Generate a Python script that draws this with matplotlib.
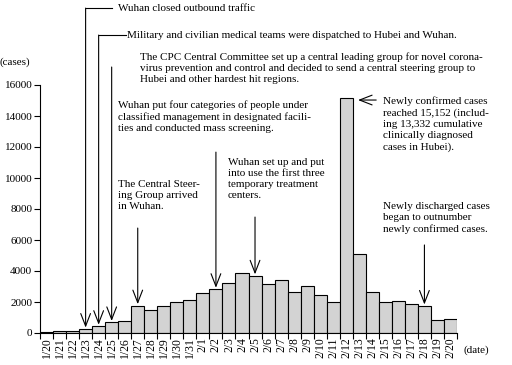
import numpy as np
import matplotlib
matplotlib.use('Agg')
import matplotlib.pyplot as plt

# DATA
dates = ['1/20', '1/21', '1/22', '1/23', '1/24', '1/25', '1/26', '1/27',
         '1/28', '1/29', '1/30', '1/31', '2/1', '2/2', '2/3', '2/4', '2/5',
         '2/6', '2/7', '2/8', '2/9', '2/10', '2/11', '2/12', '2/13', '2/14',
         '2/15', '2/16', '2/17', '2/18', '2/19', '2/20']
new_cases = [77, 149, 131, 259, 444, 688, 769, 1771, 1459, 1737, 1982, 2102,
             2590, 2829, 3235, 3887, 3694, 3143, 3399, 2656, 3062, 2478, 2015,
             15152, 5090, 2641, 2009, 2048, 1886, 1749, 820, 889]
yticks = [0, 2000, 4000, 6000, 8000, 10000, 12000, 14000, 16000]

# SETUP
plt.rcParams['font.family'] = 'serif'
plt.rcParams['font.serif'] = ['Liberation Serif', 'DejaVu Serif']
fs = 8.0

fig = plt.figure(figsize=(5.12, 3.65), dpi=100)
ax = fig.add_axes([40/512, 32/365, 417/512, 333/365])
ytop = 333 * 16000 / 248

x = np.arange(len(dates))
ax.bar(x, new_cases, width=1.0, color='#d3d3d3', edgecolor='black', lw=0.8)

ax.set_xlim(-0.5, len(dates) - 0.5)
ax.set_ylim(0, ytop)
ax.spines['top'].set_visible(False)
ax.spines['right'].set_visible(False)
ax.spines['left'].set_bounds(0, 16000)
ax.spines['left'].set_linewidth(0.8)
ax.spines['bottom'].set_linewidth(0.8)

ax.set_yticks(yticks)
ax.set_yticklabels([str(v) for v in yticks], fontsize=fs)
ax.set_xticks(x)
ax.set_xticklabels(dates, rotation=90, fontsize=fs + 0.4)
ax.set_xticks(np.arange(len(dates) + 1) - 0.5, minor=True)
ax.tick_params(axis='x', which='major', length=0, pad=3)
ax.tick_params(axis='x', which='minor', length=4, width=0.8)
ax.tick_params(axis='y', length=4, width=0.8, pad=1.5)

fig.text(0.0, 1 - 62/365, '(cases)', fontsize=fs, va='center')
fig.text(463/512, 1 - 350/365, '(date)', fontsize=fs, va='center')

arr = dict(arrowstyle='->,head_length=0.9,head_width=0.35', lw=0.8,
           color='black', shrinkA=0, shrinkB=1)


def down_arrow(i, y0):
    ax.annotate('', xy=(i, new_cases[i]), xytext=(i, y0), arrowprops=arr)


# Wuhan closed outbound traffic (1/23)
ax.plot([3, 5.0], [20960, 20960], color='black', lw=0.8)
down_arrow(3, 20960)
ax.text(5.45, 20960, 'Wuhan closed outbound traffic', fontsize=fs, va='center')

# medical teams (1/24)
ax.plot([4, 6.1], [19220, 19220], color='black', lw=0.8)
down_arrow(4, 19220)
ax.text(6.2, 19220, 'Military and civilian medical teams were dispatched to Hubei and Wuhan.',
        fontsize=fs, va='center')

# CPC Central Committee (1/25)
down_arrow(5, 17160)
ax.text(7.15, 18125,
        'The CPC Central Committee set up a central leading group for novel corona-\n'
        'virus prevention and control and decided to send a central steering group to\n'
        'Hubei and other hardest hit regions.',
        fontsize=fs, va='top', linespacing=1.3)

# Wuhan put four categories (2/2)
down_arrow(13, 11670)
ax.text(5.45, 15030,
        'Wuhan put four categories of people under\n'
        'classified management in designated facili-\n'
        'ties and conducted mass screening.',
        fontsize=fs, va='top', linespacing=1.3)

# Central Steering Group (1/27)
down_arrow(7, 6770)
ax.text(5.45, 9870, 'The Central Steer-\ning Group arrived\nin Wuhan.',
        fontsize=fs, va='top', linespacing=1.3)

# temporary treatment centers (2/5)
down_arrow(16, 7480)
ax.text(13.9, 11290,
        'Wuhan set up and put\ninto use the first three\ntemporary treatment\ncenters.',
        fontsize=fs, va='top', linespacing=1.3)

# 2/12 peak
ax.annotate('', xy=(23.8, 15030), xytext=(25.3, 15030), arrowprops=arr)
ax.text(25.8, 15290,
        'Newly confirmed cases\nreached 15,152 (includ-\ning 13,332 cumulative\n'
        'clinically diagnosed\ncases in Hubei).',
        fontsize=fs, va='top', linespacing=1.3)

# discharged > confirmed (2/18)
down_arrow(29, 5680)
ax.text(25.8, 8450,
        'Newly discharged cases\nbegan to outnumber\nnewly confirmed cases.',
        fontsize=fs, va='top', linespacing=1.3)

fig.savefig('out.png', dpi=100)
